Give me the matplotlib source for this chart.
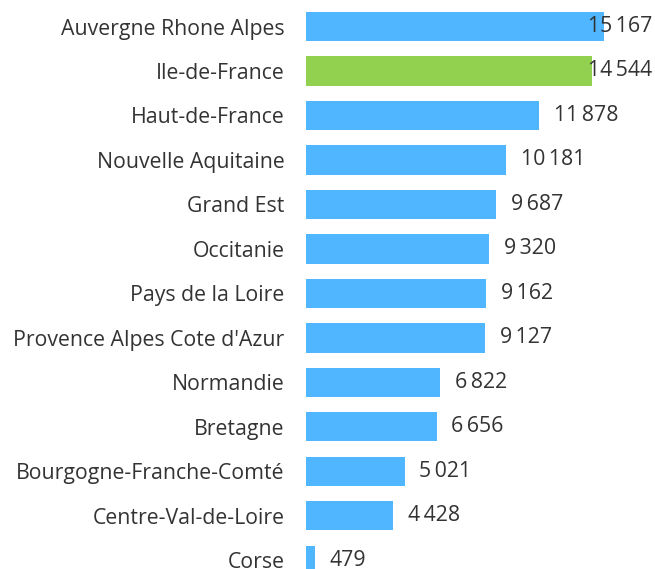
import matplotlib
matplotlib.use("Agg")
import matplotlib.pyplot as plt

plt.rcParams['font.family'] = ['Open Sans', 'DejaVu Sans']

regions = ["Auvergne Rhone Alpes", "Ile-de-France", "Haut-de-France", "Nouvelle Aquitaine",
           "Grand Est", "Occitanie", "Pays de la Loire", "Provence Alpes Cote d'Azur",
           "Normandie", "Bretagne", "Bourgogne-Franche-Comté", "Centre-Val-de-Loire", "Corse"]
values = [15167, 14544, 11878, 10181, 9687, 9320, 9162, 9127, 6822, 6656, 5021, 4428, 479]
highlight = "Ile-de-France"

BLUE = "#4FB6FF"
GREEN = "#92D050"
TEXT = "#333333"
FS = 15.3

W, H = 655, 569
fig = plt.figure(figsize=(W / 100, H / 100), dpi=100)
left_px = 306
ax = fig.add_axes([left_px / W, 0, (W - left_px) / W, 1])

px_per_unit = 298 / 15167
row_px = 44.48
first_center = 26.5
ax.set_xlim(0, (W - left_px) / px_per_unit)
ax.set_ylim((H - first_center) / row_px, -first_center / row_px)

ypos = list(range(len(regions)))
colors = [GREEN if r == highlight else BLUE for r in regions]
ax.barh(ypos, values, height=0.659, color=colors, edgecolor='none')

ax.set_yticks(ypos)
ax.set_yticklabels(regions, fontsize=FS, color=TEXT)
ax.tick_params(axis='y', length=0, pad=15.5)
ax.set_xticks([])
for s in ax.spines.values():
    s.set_visible(False)

def fmt(v):
    return f"{v:,}".replace(",", "\u2009")

texts = []
for y, v in zip(ypos, values):
    t = ax.annotate(fmt(v), xy=(v, y), xytext=(10.5, 0), textcoords='offset points',
                    ha='left', va='center', fontsize=FS, color=TEXT, annotation_clip=False)
    texts.append(t)

fig.canvas.draw()
renderer = fig.canvas.get_renderer()
limit = 652
for t in texts:
    bb = t.get_window_extent(renderer)
    if bb.x1 > limit:
        shift = (bb.x1 - limit) / (100 / 72)
        ox, oy = t.xyann
        t.xyann = (ox - shift, oy)

fig.savefig("out.png", dpi=100)
